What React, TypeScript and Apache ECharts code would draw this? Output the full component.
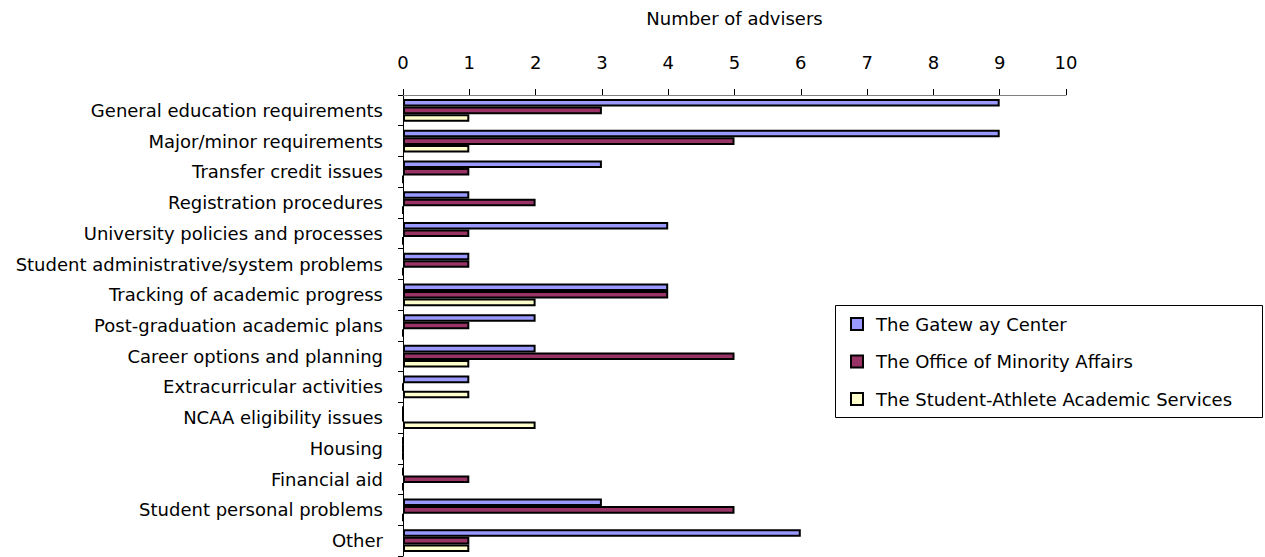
import React, { useEffect, useRef } from "react";
import * as echarts from "echarts";

// Advising topics, listed top to bottom
const topics = [
  "General education requirements",
  "Major/minor requirements",
  "Transfer credit issues",
  "Registration procedures",
  "University policies and processes",
  "Student administrative/system problems",
  "Tracking of academic progress",
  "Post-graduation academic plans",
  "Career options and planning",
  "Extracurricular activities",
  "NCAA eligibility issues",
  "Housing",
  "Financial aid",
  "Student personal problems",
  "Other",
];

const seriesNames = [
  "The Gatew ay Center",
  "The Office of Minority Affairs",
  "The Student-Athlete Academic Services",
];

const gatewayCenter = [9, 9, 3, 1, 4, 1, 4, 2, 2, 1, 0, 0, 0, 3, 6];
const minorityAffairs = [3, 5, 1, 2, 1, 1, 4, 1, 5, 0, 0, 0, 1, 5, 1];
const athleteServices = [1, 1, 0, 0, 0, 0, 2, 0, 1, 1, 2, 0, 0, 0, 1];

const xTicks = [0, 1, 2, 3, 4, 5, 6, 7, 8, 9, 10];

const colors = ["#9999FF", "#993366", "#FFFFCC"];
const FONT = "DejaVu Sans";

export default function App() {
  const ref = useRef<HTMLDivElement>(null);

  useEffect(() => {
    if (!ref.current) return;
    const chart = echarts.init(ref.current, undefined, { renderer: "svg" });
    const values = [gatewayCenter, minorityAffairs, athleteServices];

    chart.setOption({
      animation: false,
      textStyle: { fontFamily: FONT, color: "#000" },
      grid: { left: 403, right: 199, top: 95, bottom: 1, containLabel: false },
      xAxis: {
        type: "value",
        position: "top",
        min: xTicks[0],
        max: xTicks[xTicks.length - 1],
        interval: 1,
        name: "Number of advisers",
        nameLocation: "middle",
        nameGap: 68,
        nameTextStyle: { fontFamily: FONT, fontSize: 18, color: "#000" },
        axisLine: { show: true, lineStyle: { color: "#808080", width: 1 } },
        axisTick: { show: true, length: 6, lineStyle: { color: "#000" } },
        axisLabel: { margin: 24, fontFamily: FONT, fontSize: 18, color: "#000" },
        splitLine: { show: false },
      },
      yAxis: {
        type: "category",
        inverse: true,
        data: topics,
        axisLine: { show: true, lineStyle: { color: "#000", width: 1 } },
        axisTick: { show: true, length: 5, lineStyle: { color: "#000" } },
        axisLabel: { margin: 20, fontFamily: FONT, fontSize: 18, color: "#000" },
        splitLine: { show: false },
      },
      legend: {
        orient: "vertical",
        left: 850,
        top: 315,
        padding: 0,
        itemWidth: 12,
        itemHeight: 12,
        itemGap: 19.5,
        icon: "rect",
        textStyle: {
          fontFamily: FONT,
          fontSize: 18,
          color: "#000",
          lineHeight: 18,
          padding: [0, 0, 0, 8],
        },
        data: seriesNames,
      },
      graphic: [
        {
          type: "rect",
          left: 833,
          top: 303,
          shape: { width: 427, height: 112 },
          style: { fill: "none", stroke: "#000", lineWidth: 1 },
          silent: true,
        },
      ],
      series: seriesNames.map((name, i) => ({
        name,
        type: "bar",
        data: values[i],
        barGap: "0%",
        barCategoryGap: "26%",
        itemStyle: { color: colors[i], borderColor: "#000", borderWidth: 2 },
      })),
    });

    return () => chart.dispose();
  }, []);

  return (
    <div
      ref={ref}
      style={{ position: "absolute", left: 0, top: 0, width: 1265, height: 557 }}
    />
  );
}
